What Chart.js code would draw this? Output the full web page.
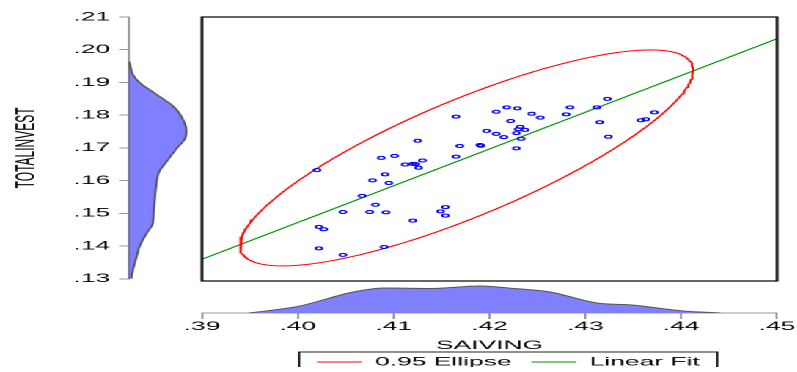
<!DOCTYPE html>
<html>
<head>
<meta charset="utf-8">
<script src="https://cdn.jsdelivr.net/npm/chart.js@4.4.1/dist/chart.umd.min.js"></script>
<style>
  html, body { margin: 0; padding: 0; background: #fff; overflow: hidden; width: 797px; height: 372px; }
  /* the whole graph is laid out narrow and widened horizontally */
  #stage { position: absolute; left: 0; top: 0; width: 363px; height: 372px; transform: scaleX(2.2); transform-origin: 0 0; }
  #stage canvas { position: absolute; }
</style>
</head>
<body>
<div id="stage">
  <canvas id="yDensity" width="90" height="290" style="left:0;top:0;"></canvas>
  <canvas id="main" width="363" height="290" style="left:0;top:0;"></canvas>
  <canvas id="xDensity" width="462" height="86" style="left:0;top:281px;"></canvas>
</div>
<script>
// Observations: SAIVING (x) and TOTALINVEST (y)
const saving = [
  0.4020, 0.4165, 0.4207, 0.4197, 0.4207, 0.4125, 0.4169, 0.4190, 0.4191, 0.4087,
  0.4101, 0.4165, 0.4112, 0.4120, 0.4123, 0.4130, 0.4126, 0.4091, 0.4078, 0.4095,
  0.4067, 0.4081, 0.4047, 0.4075, 0.4092, 0.4154, 0.4149, 0.4154, 0.4120, 0.4022,
  0.4027, 0.4022, 0.4090, 0.4047, 0.4218, 0.4229, 0.4244, 0.4253, 0.4222, 0.4284,
  0.4280, 0.4312, 0.4323, 0.4315, 0.4324, 0.4372, 0.4358, 0.4363, 0.4215, 0.4232,
  0.4230, 0.4237, 0.4228, 0.4233, 0.4228
];
const totalInvest = [
  0.1636, 0.1798, 0.1813, 0.1755, 0.1746, 0.1725, 0.1709, 0.1712, 0.1710, 0.1673,
  0.1679, 0.1677, 0.1653, 0.1655, 0.1654, 0.1665, 0.1643, 0.1623, 0.1605, 0.1597,
  0.1558, 0.1531, 0.1509, 0.1509, 0.1508, 0.1524, 0.1511, 0.1498, 0.1483, 0.1464,
  0.1457, 0.1399, 0.1403, 0.1379, 0.1826, 0.1823, 0.1807, 0.1795, 0.1785, 0.1826,
  0.1805, 0.1826, 0.1852, 0.1781, 0.1737, 0.1811, 0.1787, 0.1790, 0.1736, 0.1767,
  0.1760, 0.1758, 0.1748, 0.1731, 0.1702
];

// Axis ticks
const xTickValues = [0.39, 0.40, 0.41, 0.42, 0.43, 0.44, 0.45];
const xTickLabels = ['.39', '.40', '.41', '.42', '.43', '.44', '.45'];
const yTickValues = [0.13, 0.14, 0.15, 0.16, 0.17, 0.18, 0.19, 0.20, 0.21];
const yTickLabels = ['.13', '.14', '.15', '.16', '.17', '.18', '.19', '.20', '.21'];

// Bivariate normal 0.95 ellipse: means, standard deviations, correlation
const ellipseCenter = [0.4176, 0.1673];
const ellipseSd = [0.00966, 0.01337];
const ellipseRho = 0.812;
const ellipseChi2 = 5.991; // chi-square 0.95 quantile, 2 d.f.

// Least-squares line end points
const fitX = [0.39, 0.45];
const fitY = [0.1366, 0.2034];

// Kernel density of TOTALINVEST (left margin)
const yDensityAt = [0.1300, 0.1328, 0.1364, 0.1400, 0.1445, 0.1465, 0.1506, 0.1545, 0.1601, 0.1626,
                    0.1657, 0.1697, 0.1727, 0.1752, 0.1793, 0.1828, 0.1864, 0.1899, 0.1924, 0.1949, 0.1964];
const yDensity   = [1.2, 2.0, 3.7, 5.4, 9.5, 11.7, 12.4, 12.9, 14.0, 15.0,
                    18.7, 23.7, 27.9, 28.7, 26.5, 22.0, 13.7, 5.4, 2.0, 0.7, 0.0];

// Kernel density of SAIVING (bottom margin)
const xDensityAt = [0.3949, 0.4000, 0.4058, 0.4090, 0.4140, 0.4189, 0.4226, 0.4263, 0.4312, 0.4349, 0.4402, 0.4441];
const xDensity   = [0.0, 8.5, 27.3, 32.5, 31.9, 35.1, 31.9, 27.3, 13.0, 10.4, 2.6, 0.0];

const legendNames = ['0.95 Ellipse', 'Linear Fit'];
const legendColors = ['#ff0000', '#009000'];

Chart.defaults.font.family = "'Liberation Sans', Arial, sans-serif";
Chart.defaults.font.size = 12;
Chart.defaults.color = '#000';

const densityFill = 'rgb(128,128,255)';
const axisGrey = '#999';

// Ellipse outline from the moments above
const ellipsePts = [];
{
  const k = Math.sqrt(ellipseChi2);
  const steps = 240;
  for (let i = 0; i <= steps; i++) {
    const t = (i / steps) * 2 * Math.PI;
    const u = Math.cos(t), v = Math.sin(t);
    ellipsePts.push({
      x: ellipseCenter[0] + k * ellipseSd[0] * u,
      y: ellipseCenter[1] + k * ellipseSd[1] * (ellipseRho * u + Math.sqrt(1 - ellipseRho * ellipseRho) * v)
    });
  }
}

const frame = {
  id: 'frame',
  afterDatasetsDraw(chart) {
    const { left, top, right, bottom } = chart.chartArea;
    const ctx = chart.ctx;
    ctx.save();
    ctx.strokeStyle = '#000';
    ctx.lineWidth = 1.2;
    ctx.strokeRect(left, top, right - left, bottom - top);
    ctx.restore();
  }
};

const legendFrame = {
  id: 'legendFrame',
  afterDraw(chart) {
    const boxes = chart.legend && chart.legend.legendHitBoxes;
    if (!boxes || !boxes.length) return;
    const first = boxes[0], last = boxes[boxes.length - 1];
    const l = first.left - 8, r = last.left + last.width + 8, t = first.top - 4;
    const ctx = chart.ctx;
    ctx.save();
    ctx.strokeStyle = '#222';
    ctx.lineWidth = 1;
    ctx.strokeRect(l, t, r - l, chart.height - t + 5);
    ctx.restore();
  }
};

// a scale that only reserves room beside the plot
const spacer = (width, position) => ({
  type: 'linear',
  position,
  display: true,
  afterFit(scale) { scale.width = width; },
  grid: { display: false },
  border: { display: false },
  ticks: { display: false }
});

// Scatter with ellipse and fitted line
new Chart(document.getElementById('main'), {
  type: 'scatter',
  data: {
    datasets: [
      {
        label: 'TOTALINVEST vs SAIVING',
        data: saving.map((x, i) => ({ x, y: totalInvest[i] })),
        pointStyle: 'circle',
        pointRadius: 1.5,
        pointHoverRadius: 1.5,
        pointBorderWidth: 1,
        pointBorderColor: '#0000ff',
        pointBackgroundColor: 'rgba(0,0,0,0)',
        borderColor: '#0000ff',
        backgroundColor: 'rgba(0,0,0,0)'
      },
      {
        label: legendNames[0],
        data: ellipsePts,
        showLine: true,
        borderColor: legendColors[0],
        borderWidth: 1,
        pointRadius: 0,
        fill: false
      },
      {
        label: legendNames[1],
        data: fitX.map((x, i) => ({ x, y: fitY[i] })),
        showLine: true,
        borderColor: legendColors[1],
        borderWidth: 1,
        pointRadius: 0,
        fill: false
      }
    ]
  },
  options: {
    responsive: false,
    devicePixelRatio: 2,
    animation: false,
    events: [],
    layout: { padding: { left: 91.8, right: 9.8, top: 17, bottom: 9 } },
    plugins: { legend: { display: false }, tooltip: { enabled: false } },
    scales: {
      x: { type: 'linear', min: 0.39, max: 0.45, display: false },
      y: { type: 'linear', min: 0.13, max: 0.21, display: false }
    }
  },
  plugins: [frame]
});

// Left margin: density of TOTALINVEST
new Chart(document.getElementById('yDensity'), {
  type: 'line',
  data: {
    datasets: [
      {
        data: yDensityAt.map((y, i) => ({ x: yDensity[i], y })),
        borderColor: '#555',
        borderWidth: 1,
        backgroundColor: densityFill,
        fill: 'origin',
        pointRadius: 0,
        cubicInterpolationMode: 'monotone'
      },
      {
        data: [{ x: 0, y: yDensityAt[0] }, { x: 0, y: yDensityAt[yDensityAt.length - 1] }],
        borderColor: '#444',
        borderWidth: 1,
        pointRadius: 0,
        fill: false
      }
    ]
  },
  options: {
    indexAxis: 'y',
    responsive: false,
    devicePixelRatio: 2,
    animation: false,
    events: [],
    layout: { padding: { left: 0, right: 0, top: 17, bottom: 9 } },
    plugins: { legend: { display: false }, tooltip: { enabled: false } },
    scales: {
      x: { type: 'linear', min: 0, max: 34.5, display: false },
      y: {
        type: 'linear',
        position: 'left',
        min: 0.13,
        max: 0.21,
        afterBuildTicks(scale) { scale.ticks = yTickValues.map(value => ({ value })); },
        afterFit(scale) { scale.width = 58.6; },
        grid: { drawOnChartArea: false, drawTicks: true, tickLength: 4.5, color: axisGrey },
        border: { color: axisGrey },
        ticks: { padding: 4, autoSkip: false, callback: (v, i) => yTickLabels[i] },
        title: { display: true, text: 'TOTALINVEST', padding: { top: 5.2, bottom: 0 } }
      }
    }
  }
});

// Bottom margin: density of SAIVING, axis and legend
new Chart(document.getElementById('xDensity'), {
  type: 'line',
  data: {
    datasets: [{
      data: xDensityAt.map((x, i) => ({ x, y: xDensity[i] })),
      borderColor: '#555',
      borderWidth: 1,
      backgroundColor: densityFill,
      fill: 'origin',
      pointRadius: 0,
      cubicInterpolationMode: 'monotone'
    }]
  },
  options: {
    responsive: false,
    devicePixelRatio: 2,
    animation: false,
    events: [],
    layout: { padding: { left: 0, right: 0, top: 4, bottom: 0 } },
    plugins: {
      tooltip: { enabled: false },
      legend: {
        display: true,
        position: 'bottom',
        maxHeight: 20,
        labels: {
          boxWidth: 20.5,
          boxHeight: 1,
          padding: 9,
          generateLabels: () => legendNames.map((text, i) => ({
            text,
            fillStyle: legendColors[i],
            strokeStyle: legendColors[i],
            lineWidth: 0,
            hidden: false,
            fontColor: '#000'
          }))
        }
      }
    },
    scales: {
      x: {
        type: 'linear',
        min: 0.39,
        max: 0.45,
        afterBuildTicks(scale) { scale.ticks = xTickValues.map(value => ({ value })); },
        afterFit(scale) { scale.height = 34; },
        grid: { drawOnChartArea: false, drawTicks: true, tickLength: 6, color: axisGrey },
        border: { color: axisGrey },
        ticks: { padding: 0.5, autoSkip: false, maxRotation: 0, callback: (v, i) => xTickLabels[i] },
        title: { display: true, text: 'SAIVING', padding: { top: 0, bottom: -6 } }
      },
      y: Object.assign(spacer(91.8, 'left'), { min: 0, max: 36.4 }),
      yRight: spacer(108.8, 'right')
    }
  },
  plugins: [legendFrame]
});
</script>
</body>
</html>
